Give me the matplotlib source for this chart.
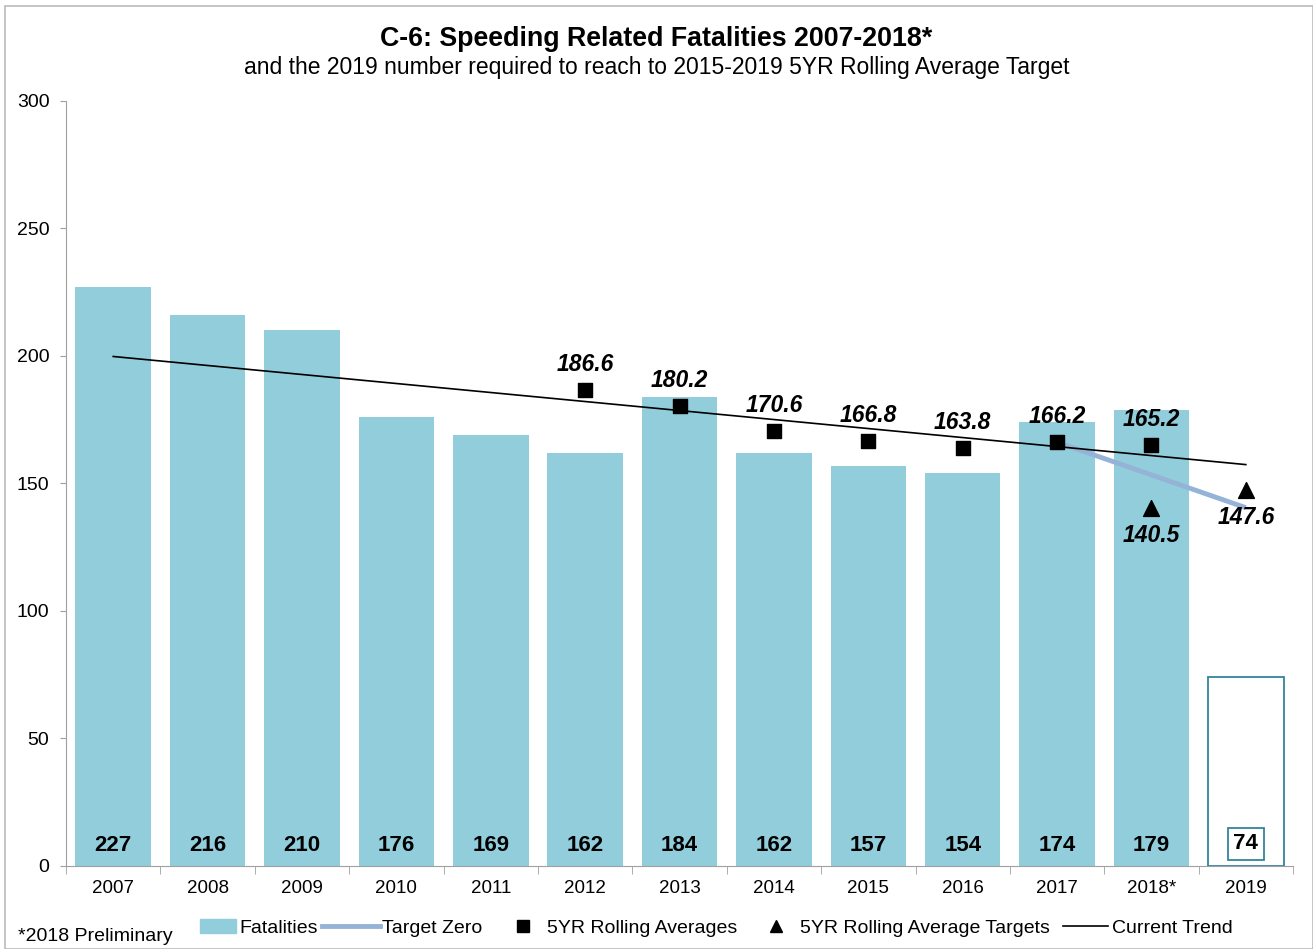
import matplotlib.pyplot as plt
from matplotlib.patches import Rectangle, Patch
from matplotlib.lines import Line2D
import numpy as np

plt.rcParams['font.family'] = ['Liberation Sans', 'DejaVu Sans']

# 数据
years = ['2007', '2008', '2009', '2010', '2011', '2012', '2013', '2014',
         '2015', '2016', '2017', '2018*', '2019']
fatalities = [227, 216, 210, 176, 169, 162, 184, 162, 157, 154, 174, 179, 74]
avg_idx = [5, 6, 7, 8, 9, 10, 11]
rolling_avg = [186.6, 180.2, 170.6, 166.8, 163.8, 166.2, 165.2]
target_idx = [11, 12]
targets = [140.5, 147.6]
zero_idx = [10, 12]
target_zero = [166.2, 140.5]
trend_idx = [0, 12]
trend = [199.8, 157.4]

bar_col = '#92CDDC'
edge_col = '#31859C'
zero_col = '#95B3D7'

fig = plt.figure(figsize=(13.13, 9.49), dpi=100)
fig.patches.append(Rectangle((0.004, 0.0), 0.996, 0.994, transform=fig.transFigure,
                             fill=False, edgecolor='#BBBBBB', lw=1.2))
ax = fig.add_axes([0.0503, 0.0875, 0.9345, 0.8061])

x = np.arange(len(years))
n = len(years)
ax.bar(x[:-1], fatalities[:-1], width=0.8, color=bar_col, zorder=1)
ax.bar(x[-1], fatalities[-1], width=0.8, facecolor='white', edgecolor=edge_col, lw=1.3, zorder=1)

# 柱子底部数字
for i, v in enumerate(fatalities):
    if i == n - 1:
        ax.text(i, 4.5, str(v), ha='center', va='bottom', fontsize=16, fontweight='bold',
                bbox=dict(boxstyle='square,pad=0.25', facecolor='white', edgecolor=edge_col, lw=1.3))
    else:
        ax.text(i, 4, str(v), ha='center', va='bottom', fontsize=16, fontweight='bold')

# 趋势线和目标线
ax.plot(trend_idx, trend, color='black', lw=1.2, zorder=3)
ax.plot(zero_idx, target_zero, color=zero_col, lw=3.5, zorder=2, solid_capstyle='butt')

ax.scatter(avg_idx, rolling_avg, marker='s', s=115, color='black', zorder=4)
for i, v in zip(avg_idx, rolling_avg):
    ax.text(i, v + 5.5, f'{v:.1f}', ha='center', va='bottom', fontsize=16.5,
            fontweight='bold', style='italic')

ax.scatter(target_idx, targets, marker='^', s=130, color='black', zorder=4)
for i, v in zip(target_idx, targets):
    ax.text(i, v - 6.5, f'{v:.1f}', ha='center', va='top', fontsize=16.5,
            fontweight='bold', style='italic')

ax.set_xlim(-0.5, n - 0.5)
ax.set_ylim(0, 300)
ax.set_yticks(range(0, 301, 50))
ax.set_xticks(x)
ax.set_xticklabels(years)
ax.set_xticks(np.arange(-0.5, n, 1), minor=True)
ax.tick_params(axis='x', which='major', length=0, labelsize=13.5, pad=10)
ax.tick_params(axis='x', which='minor', length=6, color='#A0A0A0')
ax.tick_params(axis='y', length=4, color='#A0A0A0', labelsize=14, pad=8)
for s in ['top', 'right']:
    ax.spines[s].set_visible(False)
for s in ['left', 'bottom']:
    ax.spines[s].set_color('#A0A0A0')

fig.text(0.5, 0.959, 'C-6: Speeding Related Fatalities 2007-2018*', ha='center', va='center',
         fontsize=19.3, fontweight='bold')
fig.text(0.5, 0.929, 'and the 2019 number required to reach to 2015-2019 5YR Rolling Average Target',
         ha='center', va='center', fontsize=16.5)
fig.text(0.014, 0.013, '*2018 Preliminary', ha='left', va='center', fontsize=14)

# 图例，每项单独定位
entries = [
    (Patch(color=bar_col), 'Fatalities', 200, 1.85, 0.2),
    (Line2D([], [], color=zero_col, lw=3.5), 'Target Zero', 322, 3.0, 0.1),
    (Line2D([], [], marker='s', color='black', ls='none', markersize=9), '5YR Rolling Averages', 511, 1.2, 0.65),
    (Line2D([], [], marker='^', color='black', ls='none', markersize=9), '5YR Rolling Average Targets', 764, 1.2, 0.65),
    (Line2D([], [], color='black', lw=1.2), 'Current Trend', 1063, 2.3, 0.2),
]
for h, lab, px, hl, tp in entries:
    fig.legend([h], [lab], loc='center left', bbox_to_anchor=(px / 1313, 1 - 928 / 949),
               frameon=False, fontsize=14, handlelength=hl, handletextpad=tp,
               borderpad=0, borderaxespad=0)

fig.savefig('out.png', dpi=100)
